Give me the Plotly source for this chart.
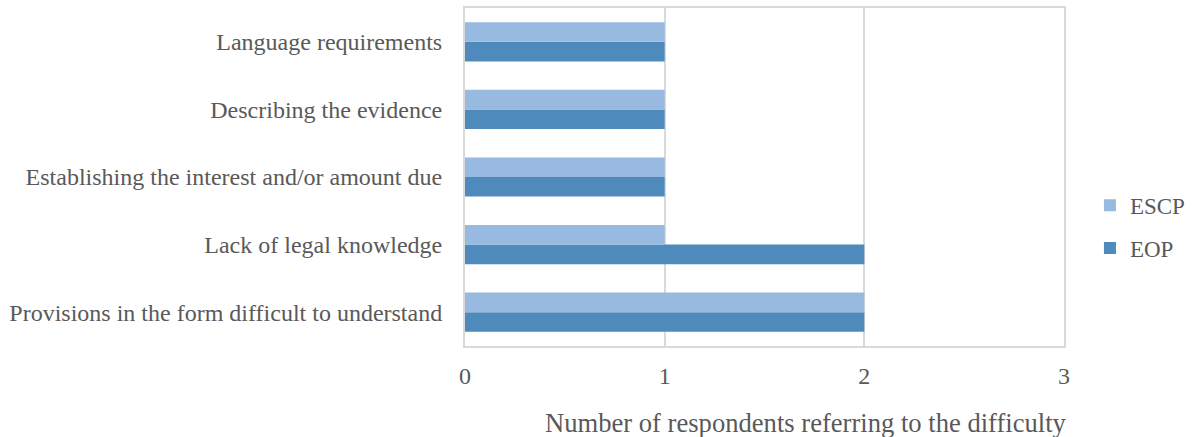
import plotly.graph_objects as go

# Difficulties reported, listed bottom-to-top as they appear on the y axis
categories = [
    "Provisions in the form difficult to understand",
    "Lack of legal knowledge",
    "Establishing the interest and/or amount due",
    "Describing the evidence",
    "Language requirements",
]
eop_counts = [2, 2, 1, 1, 1]
escp_counts = [2, 1, 1, 1, 1]
x_ticks = [0, 1, 2, 3]

FONT = "Liberation Serif"
TEXT = "#595959"
GRID = "#d9d9d9"

fig = go.Figure()
fig.add_trace(go.Bar(
    y=categories, x=eop_counts, name="EOP", orientation="h",
    marker=dict(color="#4F8ABD", line=dict(width=0)),
    legendgroup="eop", legendrank=2,
))
fig.add_trace(go.Bar(
    y=categories, x=escp_counts, name="ESCP", orientation="h",
    marker=dict(color="#98B9E0", line=dict(width=0)),
    legendgroup="escp", legendrank=1,
))

fig.update_layout(
    width=1192, height=437,
    margin=dict(l=465, r=128, t=8, b=91, autoexpand=False),
    paper_bgcolor="white", plot_bgcolor="white",
    barmode="group", bargap=0.42, bargroupgap=0,
    font=dict(family=FONT, size=24, color=TEXT),
    legend=dict(
        x=1.0433, xanchor="left", y=0.353, yanchor="middle",
        traceorder="grouped", tracegroupgap=10,
        font=dict(family=FONT, size=23, color=TEXT),
        bgcolor="rgba(0,0,0,0)",
    ),
    showlegend=True,
)
fig.update_xaxes(
    range=[0, 3], tickvals=x_ticks, ticktext=[str(v) for v in x_ticks],
    showgrid=True, gridcolor=GRID, gridwidth=2,
    showline=True, linecolor=GRID, linewidth=2, mirror=True,
    zeroline=False, ticks="", ticklabelstandoff=7,
    tickfont=dict(family=FONT, size=24, color=TEXT),
    fixedrange=True, automargin=False,
)
fig.update_yaxes(
    categoryorder="array", categoryarray=categories,
    showgrid=False, showline=True, linecolor=GRID, linewidth=2, mirror=True,
    ticks="", ticklabelstandoff=16,
    tickfont=dict(family=FONT, size=24, color=TEXT),
    fixedrange=True, automargin=False,
)
fig.add_annotation(
    text="Number of respondents referring to the difficulty",
    xref="paper", yref="paper", x=1.0087, y=(346 - 423) / 338,
    xanchor="right", yanchor="middle", showarrow=False,
    font=dict(family=FONT, size=26.6, color=TEXT),
)

fig.write_html("out.html", config={"displayModeBar": False})
